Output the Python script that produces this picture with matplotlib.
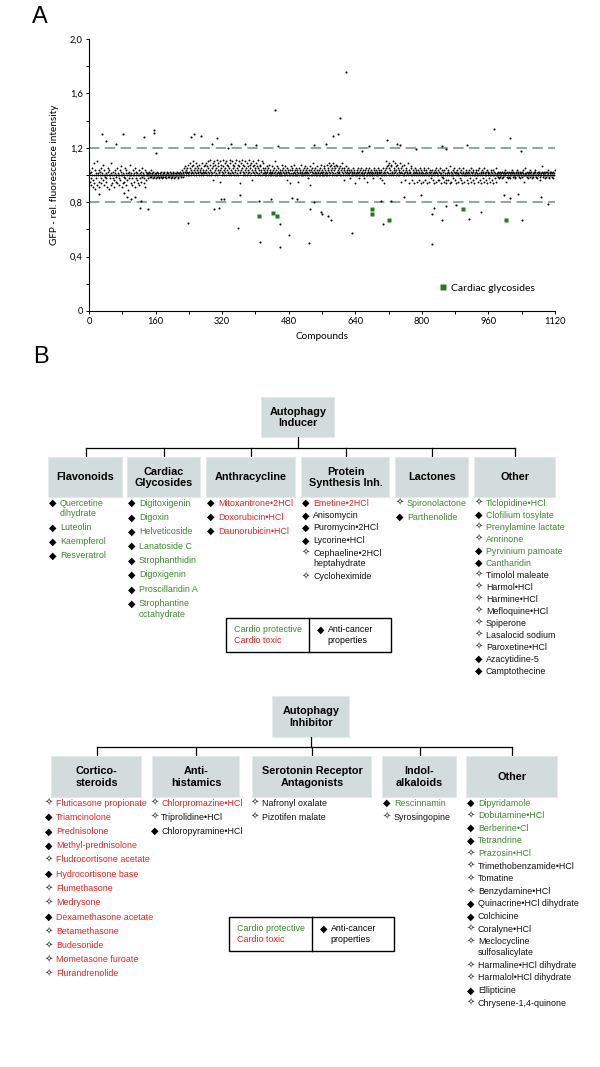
import matplotlib
matplotlib.use('Agg')
import matplotlib.pyplot as plt
from matplotlib.patches import Rectangle
import numpy as np

plt.rcParams['font.family'] = ['Liberation Sans', 'DejaVu Sans']

# ---------------- Panel A data ----------------
# band values per compound, letters a..t -> 0.8875 + 0.0125*k
band_codes = [
    "jmfkdlhjnc gjeqbmkhjr dkjfmcjlhn ekjgpjdmij fhkcjnlbjm hjkdqejhlg jcmkfijnej kdjhmgjloc jekfijnhkd mjgkajlhjp ejkhdjmfkj ncljhkgjem jdkhljfinj kejhmcjlgk",
    "jkjhljikjm ijkhjlijkj hjkiljjkhi jkljijhkji lkjijhjkli jkjiljkhjj ikjlhjkijk jljkihjkjl ijkmjlkinj lokjmlnjpk ljnqkmjolr kpmjnlkqjm olknjpmlkj nkqlmjokpl",
    "mkqjolrnjk pmsjlnkqog rlmjpknsjm oqlkfrmnpj lsokmjqnlr jmpkoljnqs kmjrlpnkjo qmlsjknpmj rolkeqmnsj lpokmjrnlq jkomslpjnk qmgolrkpnj mlqkojnsmk jpolmrjkqn",
    "kmjlnjkoml jnkpjlmkjo lkmjnkjrlj mkojlnjkmj ljkpmjnlkj omjlkgjnlm jkmejokjnm kjlpjmknjl mjkfnjlmkj pljkmjnkol jmkljnhkmj lodjmjnlkq jmlknjkojm kljmnkjplj",
    "kmjlojnkmj lpkjnmqjlo kmpjnlqkoj mnkjplojmk nlkjomjnlq kjmgnljokm jlknjmkhlj mkjlnjkmlj ejkmljnkhj lmjknjlkmj hkjlmjnkfj lmkjnjlkmj jlkhmjnlkj mkjljnkmlh",
    "kmjlgjnkej lmkrjnolkp jnqkmjpolk rjmnkqljom kpjnlmjqkf nlkojmjpkl gjnmkljqke mlkjnojgkm lejknmjlfk mjkglnjekm ljkfmjnkgj lmkejnjlfm kjlhmjgkel jmkfnljkgm",
    "jlgknjekmi hjlmfkjnge kjmlgjkoej lfkjmjhlnk gjlekmjfkn jlhkgmjekl njfjkmljgk eljmkhjnfl jkgmljekjm hlkjfmjnkg jlekmjhlkf njkgljmekj lhkjfmjlgk jmeljkhjnf",
    "jkiljhkjli kjhljkijlk jmkfilhjkl ijkhljkmji ljkhjilkjm kjlijhkljk iljkmjfkjn jkilhjkljm ikjljhkjil kjmljikhjl jkljgikjlo jikljhkjli ljkjmihljk jlikjhlkjm",
]

outlier_x = [31, 41, 65, 81, 131, 157, 156, 161, 246, 252, 268, 295, 308, 333, 341, 374,
             402, 447, 454, 540, 570, 586, 598, 604, 617, 656, 673, 716, 740, 748, 787,
             849, 857, 909, 973, 1012, 1038,
             25, 83, 91, 102, 111, 124, 123, 141, 237, 300, 312, 318, 324, 359, 363,
             408, 411, 437, 458, 458, 480, 487, 501, 529, 531, 541, 558, 561, 574, 582,
             633, 701, 707, 727, 756, 799, 824, 824, 830, 849, 858, 881, 913, 943, 998,
             1012, 1031, 1040, 1087, 1104]
outlier_y = [1.30, 1.25, 1.23, 1.30, 1.28, 1.33, 1.31, 1.16, 1.28, 1.30, 1.29, 1.23, 1.27,
             1.20, 1.23, 1.23, 1.22, 1.48, 1.21, 1.22, 1.23, 1.29, 1.30, 1.42, 1.76, 1.18,
             1.21, 1.26, 1.23, 1.22, 1.19, 1.21, 1.19, 1.22, 1.34, 1.27, 1.18,
             0.86, 0.87, 0.84, 0.82, 0.84, 0.81, 0.76, 0.75, 0.65, 0.75, 0.76, 0.82, 0.82,
             0.61, 0.85, 0.81, 0.51, 0.82, 0.64, 0.47, 0.56, 0.83, 0.82, 0.50, 0.75, 0.80,
             0.73, 0.71, 0.70, 0.67, 0.57, 0.81, 0.64, 0.81, 0.84, 0.85, 0.71, 0.49, 0.76,
             0.67, 0.77, 0.78, 0.68, 0.73, 0.85, 0.83, 0.86, 0.67, 0.84, 0.79]

cg_x = [408, 443, 452, 680, 680, 721, 900, 1003]
cg_y = [0.70, 0.72, 0.70, 0.75, 0.71, 0.67, 0.75, 0.67]

x_ticks = [0, 160, 320, 480, 640, 800, 960, 1120]
y_ticks = [0, 0.4, 0.8, 1.2, 1.6, 2.0]
y_tick_labels = ["0", "0,4", "0,8", "1,2", "1,6", "2,0"]

# ---------------- Panel B data ----------------
inducer_title = "Autophagy\nInducer"
inducer_categories = ["Flavonoids", "Cardiac\nGlycosides", "Anthracycline",
                      "Protein\nSynthesis Inh.", "Lactones", "Other"]
inducer_items = [
    ["Quercetine\ndihydrate", "Luteolin", "Kaempferol", "Resveratrol"],
    ["Digitoxigenin", "Digoxin", "Helveticoside", "Lanatoside C", "Strophanthidin",
     "Digoxigenin", "Proscillaridin A", "Strophantine\noctahydrate"],
    ["Mitoxantrone•2HCl", "Doxorubicin•HCl", "Daunorubicin•HCl"],
    ["Emetine•2HCl", "Anisomycin", "Puromycin•2HCl", "Lycorine•HCl",
     "Cephaeline•2HCl\nheptahydrate", "Cycloheximide"],
    ["Spironolactone", "Parthenolide"],
    ["Ticlopidine•HCl", "Clofilium tosylate", "Prenylamine lactate", "Amrinone",
     "Pyrvinium pamoate", "Cantharidin", "Timolol maleate", "Harmol•HCl", "Harmine•HCl",
     "Mefloquine•HCl", "Spiperone", "Lasalocid sodium", "Paroxetine•HCl",
     "Azacytidine-5", "Camptothecine"],
]
inducer_colors = ["gggg", "gggggggg", "rrr", "rkkkkk", "gg", "ggggggkkkkkkkkk"]
inducer_anticancer = [
    [1, 1, 1, 1],
    [1, 1, 1, 1, 1, 1, 1, 1],
    [1, 1, 1],
    [1, 1, 1, 1, 0, 0],
    [0, 1],
    [0, 1, 0, 0, 1, 1, 0, 0, 0, 0, 0, 0, 0, 1, 1],
]

inhibitor_title = "Autophagy\nInhibitor"
inhibitor_categories = ["Cortico-\nsteroids", "Anti-\nhistamics",
                        "Serotonin Receptor\nAntagonists", "Indol-\nalkaloids", "Other"]
inhibitor_items = [
    ["Fluticasone propionate", "Triamcinolone", "Prednisolone", "Methyl-prednisolone",
     "Fludrocortisone acetate", "Hydrocortisone base", "Flumethasone", "Medrysone",
     "Dexamethasone acetate", "Betamethasone", "Budesonide", "Mometasone furoate",
     "Flurandrenolide"],
    ["Chlorpromazine•HCl", "Triprolidine•HCl", "Chloropyramine•HCl"],
    ["Nafronyl oxalate", "Pizotifen malate"],
    ["Rescinnamin", "Syrosingopine"],
    ["Dipyridamole", "Dobutamine•HCl", "Berberine•Cl", "Tetrandrine", "Prazosin•HCl",
     "Trimethobenzamide•HCl", "Tomatine", "Benzydamine•HCl", "Quinacrine•HCl dihydrate",
     "Colchicine", "Coralyne•HCl", "Meclocycline\nsulfosalicylate",
     "Harmaline•HCl dihydrate", "Harmalol•HCl dihydrate", "Ellipticine",
     "Chrysene-1,4-quinone"],
]
inhibitor_colors = ["rrrrrrrrrrrrr", "rkk", "kk", "gk", "gggggkkkkkkkkkkk"]
inhibitor_anticancer = [
    [0, 1, 1, 1, 0, 1, 0, 0, 1, 0, 0, 0, 0],
    [0, 0, 1],
    [0, 0],
    [1, 0],
    [1, 0, 1, 1, 0, 0, 0, 0, 1, 1, 0, 0, 0, 0, 1, 0],
]

legend_protective = "Cardio protective"
legend_toxic = "Cardio toxic"
legend_anticancer = "Anti-cancer\nproperties"

# ---------------- styling / layout ----------------
GREEN = '#3b8a2c'
RED = '#f41f1c'
COLMAP = {'g': GREEN, 'r': RED, 'k': '#111111'}
BOXC = '#d3dcdc'
DASHC = '#93a8a4'
FIG_W, FIG_H = 600, 1067
ITEM_FS = 6.4
CAT_FS = 7.8

fig = plt.figure(figsize=(6, 10.67), dpi=100)
ov = fig.add_axes([0, 0, 1, 1])
ov.set_xlim(0, FIG_W)
ov.set_ylim(FIG_H, 0)
ov.axis('off')

# ---- Panel A ----
ax = fig.add_axes([89 / FIG_W, 1 - 311 / FIG_H, (555 - 89) / FIG_W, (311 - 39) / FIG_H])
band_y = []
for seg in band_codes:
    s = seg.replace(" ", "")
    band_y.extend([0.8875 + 0.0125 * (ord(c) - ord('a')) for c in s])
band_y = np.array(band_y)
band_x = np.arange(len(band_y))

ax.axhline(1.2, color=DASHC, lw=1.5, dashes=(5, 2.6), zorder=1)
ax.axhline(0.8, color=DASHC, lw=1.5, dashes=(5, 2.6), zorder=1)
ax.axhline(1.0, color='black', lw=0.7, zorder=2)
ax.plot(band_x, band_y, 'o', ms=1.35, color='black', mec='none', zorder=3)
ax.plot(outlier_x, outlier_y, 'o', ms=1.5, color='black', mec='none', zorder=3)
ax.plot(cg_x, cg_y, 's', ms=3.0, color='#237a1e', mec='none', zorder=4,
        label='Cardiac glycosides')

ax.set_xlim(0, 1120)
ax.set_ylim(0, 2.0)
for sp in ['top', 'right']:
    ax.spines[sp].set_visible(False)
for sp in ['left', 'bottom']:
    ax.spines[sp].set_linewidth(0.8)
ax.set_xticks(x_ticks)
ax.set_xticks(np.arange(0, 1121, 80), minor=True)
ax.set_yticks(y_ticks)
ax.set_yticklabels(y_tick_labels)
ax.set_yticks(np.arange(0, 2.01, 0.2), minor=True)
ax.tick_params(which='both', direction='out', length=2.5, width=0.7,
               labelsize=6.7, pad=2)
for lab in ax.get_xticklabels() + ax.get_yticklabels():
    lab.set_family(['Lato', 'DejaVu Sans'])
ax.set_xlabel("Compounds", fontsize=7.2, family=['Lato', 'DejaVu Sans'], labelpad=4)
ax.set_ylabel("GFP - rel. fluorescence intensity", fontsize=7.2,
              family=['Lato', 'DejaVu Sans'], labelpad=8)
leg = ax.legend(loc='center left', bbox_to_anchor=(0.74, 0.085), frameon=False,
                handlelength=0.8, handletextpad=0.3, borderpad=0, markerscale=1.4,
                prop={'family': ['Lato', 'DejaVu Sans'], 'size': 7.5})

ov.text(40, 17, "A", fontsize=17, ha='center', va='center')
ov.text(41, 357, "B", fontsize=17, ha='center', va='center')


# ---- Panel B helpers ----
def gbox(x0, y0, x1, y1):
    ov.add_patch(Rectangle((x0 - 1.2, y0 - 1.2), x1 - x0 + 2.4, y1 - y0 + 2.4,
                           facecolor='#e4eaea', edgecolor='none', zorder=1))
    ov.add_patch(Rectangle((x0, y0), x1 - x0, y1 - y0, facecolor=BOXC,
                           edgecolor='none', zorder=2))


def tree(title, root_box, conn_y, box_top, box_bot, boxes, cats, items, colors, anticancer,
         marker_x, text_x, start_y, pitches, wrap_line):
    rx0, ry0, rx1, ry1 = root_box
    gbox(rx0, ry0, rx1, ry1)
    ov.text((rx0 + rx1) / 2, (ry0 + ry1) / 2, title, ha='center', va='center',
            fontsize=CAT_FS, fontweight='bold', linespacing=1.2, zorder=3)
    rc = (rx0 + rx1) / 2
    ov.plot([rc, rc], [ry1, conn_y], color='black', lw=0.9, zorder=1)
    centers = [(b[0] + b[1]) / 2 for b in boxes]
    ov.plot([centers[0], centers[-1]], [conn_y, conn_y], color='black', lw=0.9, zorder=1)
    for (bx0, bx1), c, cat, its, cols, acs, mx, tx, p in zip(
            boxes, centers, cats, items, colors, anticancer, marker_x, text_x, pitches):
        ov.plot([c, c], [conn_y, box_top], color='black', lw=0.9, zorder=1)
        gbox(bx0, box_top, bx1, box_bot)
        ov.text(c, (box_top + box_bot) / 2, cat, ha='center', va='center', fontsize=CAT_FS,
                fontweight='bold', linespacing=1.2, zorder=3)
        y = start_y
        for name, col, ac in zip(its, cols, acs):
            glyph = '◆' if ac else '✧'
            ov.text(mx, y, glyph, ha='center', va='center', fontsize=7 if ac else 7,
                    color='black' if ac else '#444444', family=['DejaVu Sans'], zorder=3)
            lines = name.split("\n")
            for k, ln in enumerate(lines):
                ov.text(tx, y + k * wrap_line, ln, ha='left', va='center', fontsize=ITEM_FS,
                        color=COLMAP[col], zorder=3)
            y += p + (len(lines) - 1) * wrap_line


def legend_box(x0, y0, x1, y1, xdiv):
    ov.add_patch(Rectangle((x0, y0), x1 - x0, y1 - y0, facecolor='white',
                           edgecolor='black', lw=1.0, zorder=2))
    ov.plot([xdiv, xdiv], [y0, y1], color='black', lw=1.0, zorder=3)
    ym = (y0 + y1) / 2
    ov.text(x0 + 8, ym - 5.5, legend_protective, ha='left', va='center', fontsize=ITEM_FS,
            color=GREEN, zorder=4)
    ov.text(x0 + 8, ym + 5.5, legend_toxic, ha='left', va='center', fontsize=ITEM_FS,
            color=RED, zorder=4)
    ov.text(xdiv + 12, ym - 5.5, '◆', ha='center', va='center', fontsize=7,
            family=['DejaVu Sans'], zorder=4)
    l1, l2 = legend_anticancer.split("\n")
    ov.text(xdiv + 19, ym - 5.5, l1, ha='left', va='center', fontsize=ITEM_FS, zorder=4)
    ov.text(xdiv + 18, ym + 5.5, l2, ha='left', va='center', fontsize=ITEM_FS, zorder=4)


# upper tree
ind_boxes = [(49, 122), (128, 200), (207, 295), (302, 389), (396, 468), (475, 555)]
tree(inducer_title, (262, 398, 334, 437), 448, 458, 497, ind_boxes, inducer_categories,
     inducer_items, inducer_colors, inducer_anticancer,
     marker_x=[b[0] + 4 for b in ind_boxes], text_x=[b[0] + 11 for b in ind_boxes],
     start_y=503, pitches=[14, 14.4, 14, 12.5, 14, 12.0], wrap_line=11)
legend_box(226, 618, 391, 652, 309)

# lower tree
inh_boxes = [(52, 141), (153, 239), (253, 371), (383, 456), (467, 557)]
tree(inhibitor_title, (273, 697, 349, 737), 747, 757, 797, inh_boxes, inhibitor_categories,
     inhibitor_items, inhibitor_colors, inhibitor_anticancer,
     marker_x=[49, 155, 255, 387, 471], text_x=[56, 161, 262, 394, 478],
     start_y=803, pitches=[14.25, 14, 14, 14, 12.6], wrap_line=11)
legend_box(229, 917, 394, 951, 312)

fig.savefig("out.png", dpi=100)
